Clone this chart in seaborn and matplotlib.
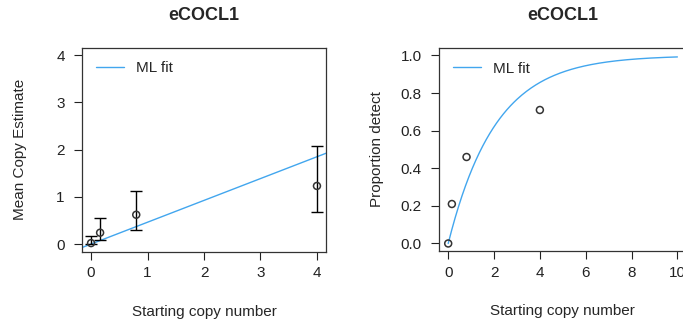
import matplotlib
matplotlib.use("Agg")
import matplotlib.pyplot as plt
import seaborn as sns
import numpy as np
import pandas as pd

sns.set_style("white")
plt.rcParams['font.family'] = ['Liberation Sans', 'DejaVu Sans']

title = "eCOCL1"
xlabel = "Starting copy number"
ylabel_left = "Mean Copy Estimate"
ylabel_right = "Proportion detect"
legend_label = "ML fit"

copies = [0.0, 0.16, 0.8, 4.0]
mean_est = [0.02, 0.24, 0.62, 1.23]
lower_est = [0.0, 0.08, 0.30, 0.68]
upper_est = [0.17, 0.55, 1.12, 2.08]
prop_detect = [0.0, 0.21, 0.46, 0.71]
ml_rate = 0.462
ml_rate_detect = 0.485

line_color = "#42a6ee"
edge = "#333333"
FS = 11

fig = plt.figure(figsize=(6.83, 3.27), dpi=100)
axL = fig.add_axes([0.1201, 0.2306, 0.3572, 0.624])
axR = fig.add_axes([0.6428, 0.2324, 0.3624, 0.621])

# Left panel
xfit = np.linspace(-0.5, 4.5, 50)
dfL = pd.DataFrame({"x": xfit, "y": ml_rate * xfit})
sns.lineplot(data=dfL, x="x", y="y", ax=axL, color=line_color, lw=1.0, label=legend_label)
yerr = [np.array(mean_est) - np.array(lower_est), np.array(upper_est) - np.array(mean_est)]
axL.errorbar(copies, mean_est, yerr=yerr, fmt="none", ecolor="black", elinewidth=1.0,
             capsize=4, capthick=1.0, zorder=3)
sns.scatterplot(x=copies, y=mean_est, ax=axL, s=25, facecolor="none", edgecolor=edge,
                linewidth=1.1, zorder=4)
axL.set_xlim(-0.16, 4.16)
axL.set_ylim(-0.16, 4.16)
axL.set_xticks([0, 1, 2, 3, 4])
axL.set_yticks([0, 1, 2, 3, 4])

# Right panel
xfit2 = np.linspace(0, 10, 200)
dfR = pd.DataFrame({"x": xfit2, "y": 1 - np.exp(-ml_rate_detect * xfit2)})
sns.lineplot(data=dfR, x="x", y="y", ax=axR, color=line_color, lw=1.0, label=legend_label)
sns.scatterplot(x=copies, y=prop_detect, ax=axR, s=25, facecolor="none", edgecolor=edge,
                linewidth=1.1, zorder=4)
axR.set_xlim(-0.4, 10.4)
axR.set_ylim(-0.04, 1.04)
axR.set_xticks([0, 2, 4, 6, 8, 10])
axR.set_yticks([0.0, 0.2, 0.4, 0.6, 0.8, 1.0])
axR.set_yticklabels(["0.0", "0.2", "0.4", "0.6", "0.8", "1.0"])

for ax, yl, ylx in [(axL, ylabel_left, -0.225), (axR, ylabel_right, -0.222)]:
    ax.set_title(title, fontsize=13, fontweight="bold", pad=20)
    ax.set_xlabel(xlabel, fontsize=FS)
    ax.set_ylabel(yl, fontsize=FS)
    ax.xaxis.set_label_coords(0.5, -0.262)
    ax.yaxis.set_label_coords(ylx, 0.5)
    ax.tick_params(axis="both", direction="out", length=5.5, width=0.8, labelsize=FS,
                   colors="#222222", bottom=True, left=True)
    ax.tick_params(axis="x", pad=5)
    ax.tick_params(axis="y", pad=7)
    for sp in ax.spines.values():
        sp.set_color(edge)
        sp.set_linewidth(0.9)
    ax.legend(loc="upper left", frameon=False, fontsize=FS, handlelength=1.85,
              handletextpad=0.8, borderaxespad=0.5)

fig.savefig("out.png", dpi=100)
